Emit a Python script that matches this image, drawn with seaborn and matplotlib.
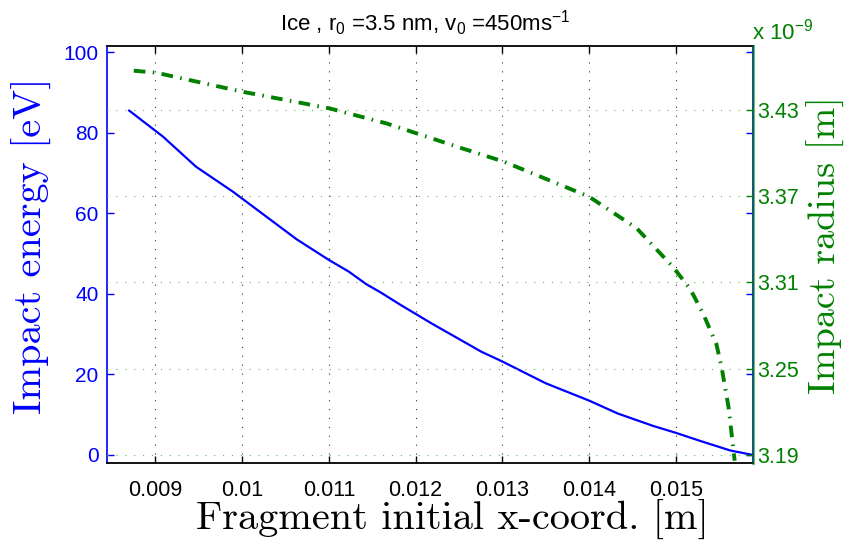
import matplotlib
matplotlib.use("Agg")
import matplotlib.pyplot as plt
import seaborn as sns
import pandas as pd
from matplotlib.ticker import FixedLocator, FormatStrFormatter

# Fragment initial x-coordinate [m] vs impact energy [eV]
x_energy = [0.008695, 0.009087, 0.00947, 0.009896, 0.01063, 0.011, 0.01123,
            0.01143, 0.0116, 0.01183, 0.01218, 0.01276, 0.013, 0.0135, 0.014,
            0.01433, 0.01474, 0.015, 0.01528, 0.01563, 0.01589]
energy = [85.5, 79.0, 71.5, 65.3, 53.5, 48.4, 45.5, 42.4, 40.3, 37.2, 32.7,
          25.6, 23.2, 17.8, 13.5, 10.3, 7.2, 5.5, 3.5, 1.1, 0.0]

# Fragment initial x-coordinate [m] vs impact radius [x 1e-9 m]
x_radius = [0.00875, 0.00901, 0.0100, 0.0110, 0.01166, 0.0125, 0.01302, 0.0140,
            0.01455, 0.01497, 0.01517, 0.01532, 0.01547, 0.01553,
            0.01561, 0.01568]
radius = [3.4573, 3.4559, 3.4427, 3.4312, 3.4207, 3.404, 3.394, 3.3697,
          3.3477, 3.3207, 3.3052, 3.2878, 3.2669, 3.2508, 3.223, 3.186]

x_ticks = [0.009, 0.010, 0.011, 0.012, 0.013, 0.014, 0.015]
x_tick_labels = ["0.009", "0.01", "0.011", "0.012", "0.013", "0.014", "0.015"]
energy_ticks = [0, 20, 40, 60, 80, 100]
radius_ticks = [3.19, 3.25, 3.31, 3.37, 3.43]

sns.set_style("white")
plt.rcParams["font.family"] = ["Liberation Sans", "DejaVu Sans"]
plt.rcParams["mathtext.fontset"] = "custom"
plt.rcParams["mathtext.rm"] = "Liberation Sans"
plt.rcParams["mathtext.it"] = "Liberation Sans"
plt.rcParams["mathtext.sf"] = "Liberation Sans"

BLUE = "#0000ff"
GREEN = "#008000"
GRID_GREEN = "#5cb85c"

df_e = pd.DataFrame({"x": x_energy, "E": energy})
df_r = pd.DataFrame({"x": x_radius, "r": radius})

fig = plt.figure(figsize=(8.51, 5.46), dpi=100)
ax = fig.add_axes([0.1257, 0.152, 0.885 - 0.1257, 0.9158 - 0.152])
ax2 = ax.twinx()

sns.lineplot(data=df_e, x="x", y="E", ax=ax, color=BLUE, lw=1.6,
             estimator=None, sort=False)
sns.lineplot(data=df_r, x="x", y="r", ax=ax2, color=GREEN, lw=2.8,
             estimator=None, sort=False, dashes=False)
ax2.lines[0].set_linestyle((0, (3.0, 1.9, 0.4, 1.9)))
ax2.lines[0].set_dash_capstyle("butt")

ax.set_xlim(0.008441, 0.015893)
ax.set_ylim(-2.0, 101.5)
ax2.set_ylim(3.1844, 3.4745)

ax.xaxis.set_major_locator(FixedLocator(x_ticks))
ax.set_xticklabels(x_tick_labels)
ax.yaxis.set_major_locator(FixedLocator(energy_ticks))
ax2.yaxis.set_major_locator(FixedLocator(radius_ticks))
ax2.yaxis.set_major_formatter(FormatStrFormatter("%.2f"))

# dotted grids: vertical from the x ticks, horizontal from the radius ticks
dots = (0, (1, 7))
ax.grid(False)
ax2.grid(False)
ax.xaxis.grid(True, color="#333333", linestyle=dots, lw=0.8)
ax2.yaxis.grid(True, color=GRID_GREEN, linestyle=dots, lw=0.8)
ax.set_axisbelow(True)

# ticks inward on all sides
ax.tick_params(axis="x", which="major", direction="in", length=5, width=1,
               top=True, bottom=True, colors="black", labelsize=15.5, pad=12)
ax.tick_params(axis="y", which="major", direction="in", length=5, width=1,
               left=True, right=True, colors=BLUE, labelsize=15, pad=6)
ax.yaxis.set_ticks_position("both")
ax.tick_params(axis="y", labelleft=True, labelright=False)
ax2.tick_params(axis="y", which="major", direction="in", length=5, width=1,
                left=False, right=True, colors=GREEN, labelsize=15.5, pad=3)

for s in ["top", "bottom"]:
    ax.spines[s].set_color("black")
    ax.spines[s].set_linewidth(1.3)
    ax.spines[s].set_visible(True)
ax.spines["left"].set_color(BLUE)
ax.spines["left"].set_linewidth(1.2)
ax.spines["right"].set_color(BLUE)
ax.spines["right"].set_linewidth(1.2)
ax2.spines["right"].set_color(GREEN)
ax2.spines["right"].set_alpha(0.55)
ax2.spines["right"].set_linewidth(2.2)
for s in ["left", "top", "bottom"]:
    ax2.spines[s].set_visible(False)

ax.set_xlabel("Fragment initial x-coord. [m]", fontfamily="cmr10",
              fontsize=29, color="black")
ax.xaxis.set_label_coords(0.534, -0.088)
ax.set_ylabel("Impact energy [eV]", fontfamily="cmr10", fontsize=29,
              color=BLUE)
ax.yaxis.set_label_coords(-0.085, 0.52)
ax2.set_ylabel("Impact radius [m]", fontfamily="cmr10", fontsize=27.5,
               color=GREEN, rotation=90)
ax2.yaxis.set_label_coords(1.084, 0.523)

fig.text(0.5, 0.985, r"Ice , r$_0$ =3.5 nm, v$_0$ =450ms$^{-1}$",
         ha="center", va="top", fontsize=16, color="black")
fig.text(0.884, 0.918, r"x 10$^{-9}$", ha="left", va="bottom",
         fontsize=16, color=GREEN)

fig.savefig("out.png", dpi=100)
